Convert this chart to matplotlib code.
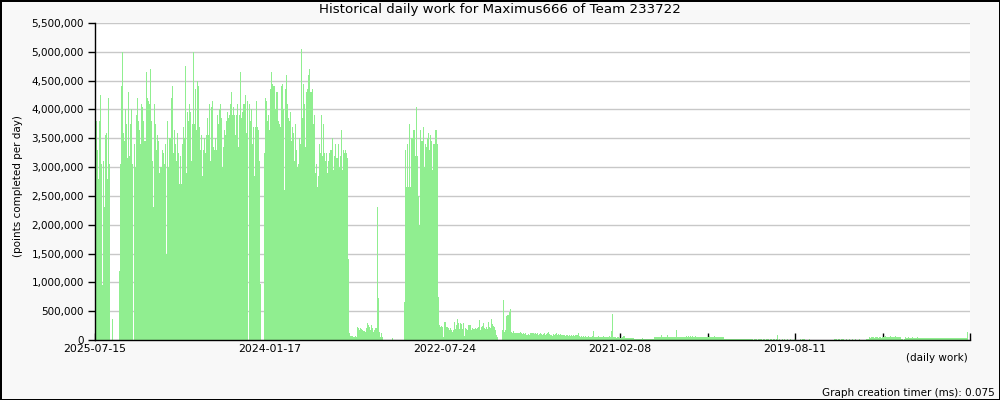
import numpy as np
import matplotlib
matplotlib.use('Agg')
import matplotlib.pyplot as plt
from matplotlib.ticker import FuncFormatter

# work per bar (thousands of points), newest on the left
seg_a = [4150, 3800, 3300, 2800, 3800, 4250, 3050, 950, 3100, 2300,
         3550, 3600, 2800, 4200, 3050, 0, 0, 360, 0, 0,
         0, 0, 0, 0, 1200, 3050, 4400, 5000, 3600, 3450,
         4000, 3750, 3150, 4300, 3200, 3750, 4000, 3050, 0, 3400,
         3000, 3900, 4200, 3800, 3650, 3400, 4100, 4050, 3800, 3450,
         3450, 4650, 4200, 4150, 4100, 4700, 3800, 3100, 2300, 4100,
         3750, 3300, 3550, 3450, 2900, 3000, 3000, 3300, 3250, 3050,
         3400, 1500, 3800, 3000, 3500, 3500, 4200, 4400, 3250, 3650,
         3400, 3100, 3600, 3250]
seg_b = [2700, 3200, 2700, 3400, 3700, 3500, 4750, 2900, 3950, 3800,
         4100, 3950, 3100, 3750, 5000, 3750, 4350, 3650, 4500, 4400,
         3700, 3300, 3550, 2850, 3300, 3500, 3250, 3550, 3850, 3550,
         4100, 3100, 4050, 4150, 3350, 3300, 3500, 3300, 3900, 3750,
         4000, 4100, 3850, 3000, 3350, 3650, 3550, 3800, 3950, 3850,
         3900, 4100, 4300, 3900, 4050, 3900, 3550, 3900, 4100, 3350,
         3900, 4650, 3850, 3950, 4100, 4100, 4250, 3600, 4150, 0,
         4100, 3800, 4000, 3400, 3700, 2850, 3700, 4150, 3700, 3650,
         3100, 970]
seg_c = [0, 0, 0,
         3250, 4200, 4150, 3800, 3900, 3650, 4350, 4650, 4450, 4400,
         4400, 4000, 4300, 4300, 3800, 3750, 3700, 4400, 4450, 4000,
         2600, 4350, 4600, 4100, 3850, 3800, 3950, 3450, 3700, 3600,
         3100, 3750, 3300, 3000, 3050, 3500, 3400, 5050, 3850, 4450,
         4100, 3350, 4300, 4350, 4600, 4700, 4300, 4300, 4350, 3750,
         3900, 2900, 3050, 2650, 2850, 3400, 3250, 3900, 3200, 3750,
         3250, 3100, 3250, 2900, 3100, 3250, 3300, 3300, 3500, 2950,
         3200, 3400, 3150, 3150, 3400, 3000, 3200, 3650, 2950, 3300,
         3250, 3300, 3250, 3150, 1400]
seg_d = [120, 75, 75, 70, 60, 60, 70, 50, 230, 200,
         170, 200, 190, 170, 160, 160, 140, 200, 290, 260,
         220, 170, 260, 200, 140, 170, 200, 210, 2300, 730,
         140, 60, 120, 50, 0, 0, 0, 0, 0, 0,
         0, 0, 0, 40, 0, 0, 0, 0, 0, 0,
         0, 0, 0, 0, 0]
seg_e = [660, 3300, 2650, 3400, 2650, 3750, 2650, 3500, 3500, 3650,
         3650, 3200, 4050, 3200, 2500, 2000, 3650, 3450, 3450, 3700,
         3000, 3400, 3350, 3500, 3600, 3300, 3550, 3450, 2950, 3400,
         3400, 3650, 3650, 3400, 750]
seg_f = [260, 230, 250, 230, 60, 320, 320, 230, 220, 200,
         170, 200, 170, 140, 170, 310, 190, 260, 360, 300,
         190, 290, 270, 190, 290, 70, 200, 190, 170, 260,
         260, 260, 170, 210, 190, 190, 200, 190, 200, 220]
seg_g = [350, 170, 230, 240, 300, 200, 190, 230, 190, 320,
         230, 200, 370, 270, 250, 230, 170, 90, 60,
         0, 0, 0, 0,
         170, 690, 140, 170, 420, 430, 430, 490, 530,
         140, 120, 160, 120, 130, 130, 120, 130, 130, 140,
         120, 110, 130, 100, 120, 90, 90, 100, 90, 120,
         130, 120, 130, 100, 120, 100, 120, 90, 100, 120,
         100, 90, 100, 120, 90, 100, 120, 140, 100, 90,
         90, 70, 100, 90, 100, 120, 90, 100, 90, 100,
         90, 80, 90, 90, 70, 90, 80, 70, 90, 70,
         80, 70, 80, 70, 90, 80, 80, 120, 70, 60,
         70, 60, 70, 60, 70, 60, 60, 70, 60, 60,
         60, 70, 160, 60,
         50, 60, 50, 70, 50, 60, 50, 60, 70, 50, 60, 50, 60, 50, 70, 60,
         160, 450, 50, 50, 50, 40, 50, 50]
seg_h = [40, 40, 40, 50, 70, 70, 40, 40, 30, 40, 40, 30, 40, 30, 30,
         20, 20, 15, 20, 20, 15, 20, 20, 30, 20, 20, 15, 20, 20, 15, 20, 20, 15, 20, 20,
         50, 60, 50, 60, 50, 50, 60, 90, 50, 60, 50, 50, 60, 80, 50, 60, 50, 60, 50, 60, 50, 60,
         170,
         60, 50, 60, 60, 50, 60, 50, 60, 60, 70, 60, 70, 60, 70, 60, 70, 60, 60, 70, 60,
         60, 50, 60, 60, 50, 60, 50, 60, 60, 50, 60, 60, 70, 60, 50, 60, 60, 70, 60, 50,
         60, 60, 50, 60, 50, 60, 50,
         20, 20, 25, 20, 20, 20, 25, 20, 20, 20, 25, 20, 20, 20, 20, 25, 20, 20, 20, 25,
         20, 20, 20, 20, 25, 20, 20,
         15, 15, 0, 15, 15, 15, 0, 15, 15, 15, 15, 0, 15, 15, 0, 15, 15, 15, 0, 15,
         15, 0, 15, 15, 0, 15,
         90,
         0, 10, 0, 0, 10, 0, 10, 0, 0, 10, 0, 0, 10, 0, 0, 0, 10, 0, 0, 0,
         0, 0, 10, 0, 10, 10, 10, 0, 0, 0, 0,
         10, 0, 0, 0, 0, 0, 0, 0, 0, 0, 0, 0, 0, 0, 0, 0, 0, 0, 0, 0, 0, 0, 0, 0, 0,
         10, 10, 10, 0, 10, 10, 0, 10, 10, 10, 0, 0, 10, 0, 0, 10, 0, 0, 10, 0,
         0, 10, 0, 0, 0, 10, 0,
         0, 0, 0, 0, 0, 10, 20, 20,
         45, 40, 45, 50, 45, 40, 45, 50, 45, 40, 50, 45, 40,
         60, 55, 60, 65, 55, 60, 60, 55, 65, 60, 55, 60, 60, 65, 55, 60, 60, 55, 60,
         10, 10, 0, 10,
         45, 40, 40, 45, 40, 40, 40, 45, 40, 35, 40, 40, 45, 40, 40, 40, 35, 40, 40, 40,
         40, 40, 35, 40, 40, 40, 35, 40, 35, 40, 35, 35, 40, 35, 35, 30, 35, 35, 30, 35,
         30, 35, 30, 30, 35, 30, 30, 35, 30, 30, 30, 30, 35, 30, 30, 30, 30, 35, 30, 30,
         30, 30,
         140]

date_labels = ['2025-07-15', '2024-01-17', '2022-07-24', '2021-02-08', '2019-08-11']

work = np.array(seg_a + seg_b + seg_c + seg_d + seg_e + seg_f + seg_g + seg_h) * 1000
x = np.arange(len(work))

fig = plt.figure(figsize=(10, 4), dpi=100, facecolor='#f8f8f8',
                 edgecolor='black', linewidth=2)
ax = fig.add_axes([0.095, 0.15, 0.875, 0.7925])
ax.set_facecolor('white')

# slightly wider than 1 so neighbouring bars don't leave hairline gaps
ax.bar(x, work, width=1.08, color='#90ee90', linewidth=0, zorder=2,
       antialiased=False)

xmin, xmax = -0.5, 874.5
ax.set_xlim(xmin, xmax)
ax.set_ylim(0, 5500000)
ax.set_yticks(np.arange(0, 5500001, 500000))
ax.yaxis.set_major_formatter(FuncFormatter(lambda v, p: f'{int(v):,}'))
ax.grid(axis='y', color='#c8c8c8', linewidth=1, zorder=0)
ax.set_axisbelow(True)

xt = np.linspace(xmin, xmax, 11)
labs = []
for i in range(11):
    labs.append(date_labels[i // 2] if i % 2 == 0 and i // 2 < len(date_labels) else '')
ax.set_xticks(xt)
ax.set_xticklabels(labs)

ax.tick_params(axis='x', direction='in', length=5, width=1, labelsize=7.8, pad=3)
ax.tick_params(axis='y', direction='out', length=5, width=1, labelsize=7.5, pad=3)
for s in ['top', 'right']:
    ax.spines[s].set_visible(False)
for s in ['left', 'bottom']:
    ax.spines[s].set_linewidth(1)

fig.text(0.5, 1 - 10 / 400, 'Historical daily work for Maximus666 of Team 233722',
         ha='center', va='center', fontsize=9.6)
fig.text(0.018, 1 - 186 / 400, '(points completed per day)', rotation=90,
         ha='center', va='center', fontsize=7.5)
fig.text(0.968, 1 - 358 / 400, '(daily work)', ha='right', va='center', fontsize=7.5)
fig.text(0.995, 1 - 393 / 400, 'Graph creation timer (ms): 0.075', ha='right',
         va='center', fontsize=7.5)

fig.savefig('out.png', dpi=100)
